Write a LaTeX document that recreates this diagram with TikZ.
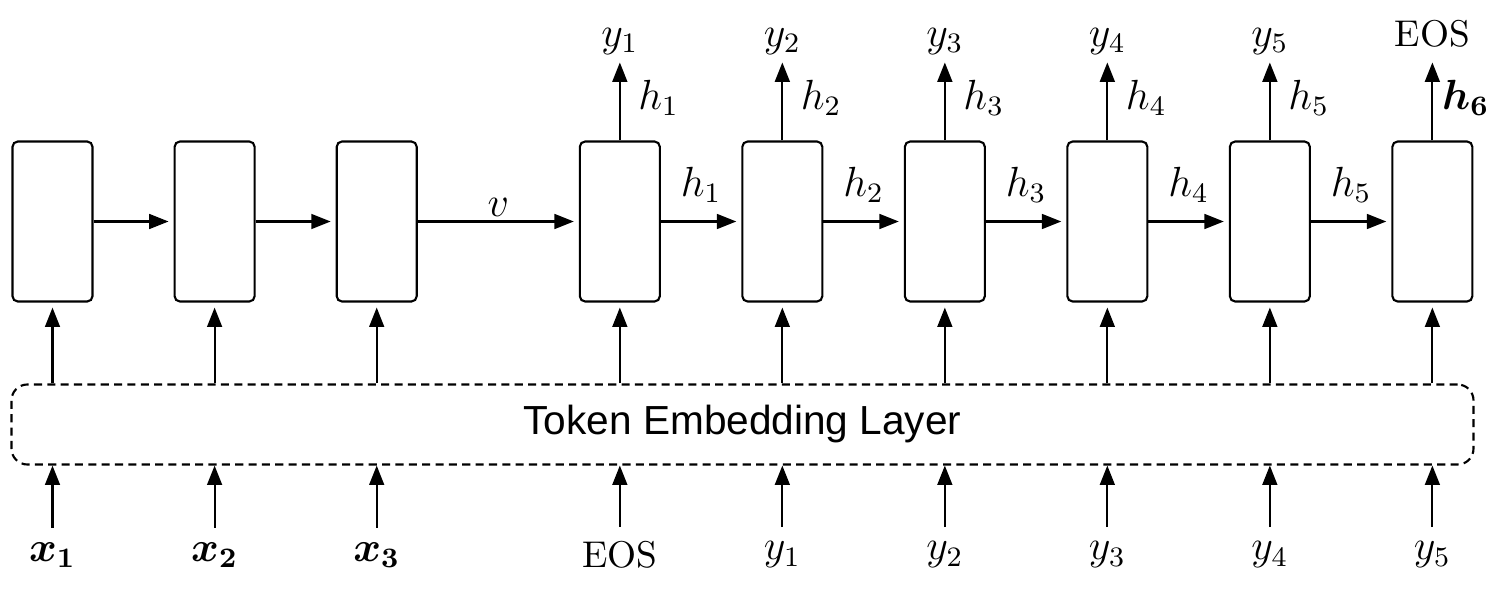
\documentclass[tikz,border=0pt]{standalone}
\usepackage{bm}
\usepackage{fontspec}
\newfontfamily\embfont{Liberation Sans}
\usetikzlibrary{arrows.meta,positioning}
\newcommand{\eos}{{\fontsize{10.6}{12}\selectfont EOS}}

\begin{document}
\begin{tikzpicture}[
  font=\fontsize{12}{14}\selectfont,
  >={Triangle[length=5.5pt,width=4.2pt]},
  cell/.style={
    draw,
    line width=0.6pt,
    rounded corners=1.5pt,
    minimum width=0.8cm,
    minimum height=1.6cm,
    inner sep=0pt
  },
  embed/.style={
    draw,
    dash pattern=on 2.3pt off 1.5pt,
    line width=0.6pt,
    rounded corners=4.5pt,
    minimum width=14.62cm,
    minimum height=0.8cm,
    font=\embfont\fontsize{11.55}{13}\selectfont
  },
  flow/.style={
    ->,
    line width=0.6pt,
    shorten >=0.05cm
  },
  feed/.style={
    ->,
    line width=0.6pt
  },
  inlab/.style={inner sep=4pt},
  outlab/.style={inner sep=2pt, text depth=2.4pt}
]
  \useasboundingbox (0,0) rectangle (15,5.94);

  % Encoder cells
  \node[cell] (enc1) at (0.525,3.725) {};
  \node[cell, right=0.80cm of enc1] (enc2) {};
  \node[cell, right=0.80cm of enc2] (enc3) {};

  % Decoder cells
  \node[cell, right=1.61cm of enc3] (dec1) {};
  \node[cell, right=0.804cm of dec1] (dec2) {};
  \node[cell, right=0.804cm of dec2] (dec3) {};
  \node[cell, right=0.804cm of dec3] (dec4) {};
  \node[cell, right=0.804cm of dec4] (dec5) {};
  \node[cell, right=0.804cm of dec5] (dec6) {};

  % Embedding layer
  \node[embed] (emb) at (7.425,1.695) {Token Embedding Layer};

  % Input tokens
  \coordinate (inrow) at (0,0.39);
  \node[inlab] (in1) at (enc1 |- inrow) {$\bm{x_1}$};
  \node[inlab] (in2) at (enc2 |- inrow) {$\bm{x_2}$};
  \node[inlab] (in3) at (enc3 |- inrow) {$\bm{x_3}$};
  \node[inlab] (in4) at (dec1 |- inrow) {\eos};
  \node[inlab] (in5) at (dec2 |- inrow) {$y_1$};
  \node[inlab] (in6) at (dec3 |- inrow) {$y_2$};
  \node[inlab] (in7) at (dec4 |- inrow) {$y_3$};
  \node[inlab] (in8) at (dec5 |- inrow) {$y_4$};
  \node[inlab] (in9) at (dec6 |- inrow) {$y_5$};

  % Output tokens
  \node[outlab, above=0.78cm of dec1] (out1) {$y_1$};
  \node[outlab, above=0.78cm of dec2] (out2) {$y_2$};
  \node[outlab, above=0.78cm of dec3] (out3) {$y_3$};
  \node[outlab, above=0.78cm of dec4] (out4) {$y_4$};
  \node[outlab, above=0.78cm of dec5] (out5) {$y_5$};
  \node[outlab, above=0.78cm of dec6] (out6) {\eos};

  % Tokens into the embedding layer
  \draw[feed] (in1.north) -- (in1.north |- emb.south);
  \draw[feed] (in2.north) -- (in2.north |- emb.south);
  \draw[feed] (in3.north) -- (in3.north |- emb.south);
  \draw[feed] (in4.north) -- (in4.north |- emb.south);
  \draw[feed] (in5.north) -- (in5.north |- emb.south);
  \draw[feed] (in6.north) -- (in6.north |- emb.south);
  \draw[feed] (in7.north) -- (in7.north |- emb.south);
  \draw[feed] (in8.north) -- (in8.north |- emb.south);
  \draw[feed] (in9.north) -- (in9.north |- emb.south);

  % Embeddings into the cells
  \draw[flow] (emb.north -| enc1) -- (enc1.south);
  \draw[flow] (emb.north -| enc2) -- (enc2.south);
  \draw[flow] (emb.north -| enc3) -- (enc3.south);
  \draw[flow] (emb.north -| dec1) -- (dec1.south);
  \draw[flow] (emb.north -| dec2) -- (dec2.south);
  \draw[flow] (emb.north -| dec3) -- (dec3.south);
  \draw[flow] (emb.north -| dec4) -- (dec4.south);
  \draw[flow] (emb.north -| dec5) -- (dec5.south);
  \draw[flow] (emb.north -| dec6) -- (dec6.south);

  % Recurrent links
  \draw[flow] (enc1.east) -- (enc2.west);
  \draw[flow] (enc2.east) -- (enc3.west);
  \draw[flow] (enc3.east) -- (dec1.west) node[midway, above, inner sep=1pt] {$v$};
  \draw[flow] (dec1.east) -- (dec2.west) node[midway, above, inner sep=5pt] {$h_1$};
  \draw[flow] (dec2.east) -- (dec3.west) node[midway, above, inner sep=5pt] {$h_2$};
  \draw[flow] (dec3.east) -- (dec4.west) node[midway, above, inner sep=5pt] {$h_3$};
  \draw[flow] (dec4.east) -- (dec5.west) node[midway, above, inner sep=5pt] {$h_4$};
  \draw[flow] (dec5.east) -- (dec6.west) node[midway, above, inner sep=5pt] {$h_5$};

  % Decoder outputs
  \draw[feed] (dec1.north) -- (out1.south) node[pos=0.55, right, inner sep=5pt] {$h_1$};
  \draw[feed] (dec2.north) -- (out2.south) node[pos=0.55, right, inner sep=5pt] {$h_2$};
  \draw[feed] (dec3.north) -- (out3.south) node[pos=0.55, right, inner sep=5pt] {$h_3$};
  \draw[feed] (dec4.north) -- (out4.south) node[pos=0.55, right, inner sep=5pt] {$h_4$};
  \draw[feed] (dec5.north) -- (out5.south) node[pos=0.55, right, inner sep=5pt] {$h_5$};
  \draw[feed] (dec6.north) -- (out6.south) node[pos=0.55, right, inner sep=2.5pt] {$\bm{h_6}$};

\end{tikzpicture}
\end{document}
